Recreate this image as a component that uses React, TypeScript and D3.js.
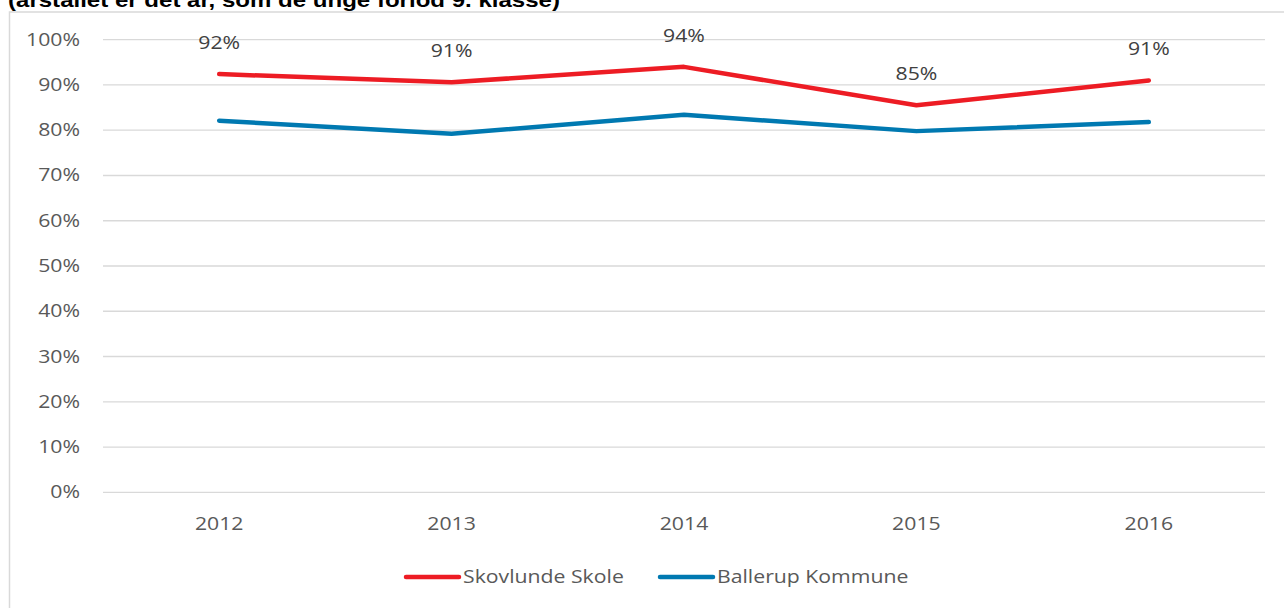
import React from "react";
import * as d3 from "d3";

const years = ["2012", "2013", "2014", "2015", "2016"];
const skovlunde = [92.4, 90.6, 94.0, 85.5, 91.0];
const ballerup = [82.1, 79.2, 83.4, 79.8, 81.8];
const skovlundeLabels = ["92%", "91%", "94%", "85%", "91%"];
const yTicks = [0, 10, 20, 30, 40, 50, 60, 70, 80, 90, 100];
const seriesNames = ["Skovlunde Skole", "Ballerup Kommune"];
const title = "(årstallet er det år, som de unge forlod 9. klasse)";

const W = 1284;
const H = 608;
const RED = "#ED1C24";
const BLUE = "#0079B1";
const SX = 1.18;
const FONT = "'Open Sans', sans-serif";

function T({ x, y, anchor = "middle", fill = "#595959", size = 18, children }: any) {
  return (
    <text
      transform={`translate(${x},${y}) scale(${SX},1)`}
      textAnchor={anchor}
      fill={fill}
      fontSize={size}
      fontFamily={FONT}
    >
      {children}
    </text>
  );
}

export default function App() {
  const x = d3.scaleBand<string>().domain(years).range([103, 1265]);
  const cx = (d: string) => (x(d) as number) + x.bandwidth() / 2;
  const y = d3.scaleLinear().domain([0, 100]).range([492.3, 39.7]);
  const line = d3
    .line<number>()
    .x((_, i) => cx(years[i]))
    .y((v) => y(v));

  const legendItems = [
    { name: seriesNames[0], color: RED, x0: 406 },
    { name: seriesNames[1], color: BLUE, x0: 660 },
  ];

  return (
    <svg
      width={W}
      height={H}
      style={{ position: "absolute", left: 0, top: 0, background: "#fff" }}
    >
      <text
        x={8}
        y={7}
        fontFamily="'Liberation Sans', Arial, sans-serif"
        fontWeight="bold"
        fontSize={20}
        textLength={552}
        lengthAdjust="spacingAndGlyphs"
        fill="#000"
      >
        {title}
      </text>
      <rect x={9.5} y={12} width={1290} height={620} fill="none" stroke="#d9d9d9" strokeWidth={1.5} />
      {yTicks.map((t) => (
        <g key={t}>
          <line x1={103} x2={1265} y1={y(t)} y2={y(t)} stroke="#d9d9d9" strokeWidth={1.3} />
          <T x={80} y={y(t) + 6} anchor="end">{`${t}%`}</T>
        </g>
      ))}
      {years.map((yr) => (
        <T key={yr} x={cx(yr)} y={530}>{yr}</T>
      ))}
      <path d={line(ballerup) || ""} fill="none" stroke={BLUE} strokeWidth={4.5} strokeLinecap="round" strokeLinejoin="round" />
      <path d={line(skovlunde) || ""} fill="none" stroke={RED} strokeWidth={4.5} strokeLinecap="round" strokeLinejoin="round" />
      {skovlunde.map((v, i) => (
        <T key={i} x={cx(years[i])} y={y(v) - 25} fill="#404040">{skovlundeLabels[i]}</T>
      ))}
      {legendItems.map((it) => (
        <g key={it.name}>
          <line x1={it.x0} x2={it.x0 + 53} y1={577} y2={577} stroke={it.color} strokeWidth={4.5} strokeLinecap="round" />
          <T x={it.x0 + 57} y={583} anchor="start">{it.name}</T>
        </g>
      ))}
    </svg>
  );
}
